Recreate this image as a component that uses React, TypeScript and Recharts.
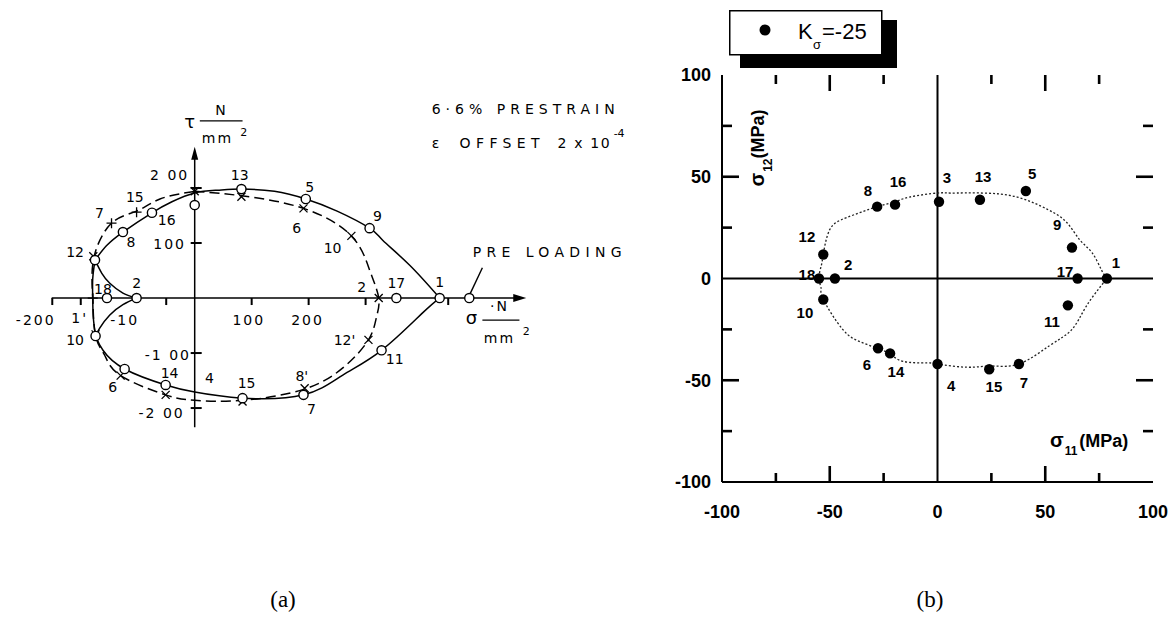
import React from 'react';
import { ScatterChart, Scatter, XAxis, YAxis, ReferenceLine, Legend } from 'recharts';

// ================= Panel (a) data (tau vs sigma, N/mm^2) =================
const aCircles = [
  { x: 430, y: 0 }, { x: 482, y: 0 }, { x: 354, y: 0 }, { x: 307, y: 127 }, { x: 195, y: 180 },
  { x: 82, y: 198 }, { x: 0, y: 169 }, { x: -75, y: 155 }, { x: -126, y: 120 }, { x: -175, y: 69 },
  { x: -102, y: 0 }, { x: -154, y: 0 }, { x: -174, y: -69 }, { x: -123, y: -129 }, { x: -51, y: -158 },
  { x: 84, y: -182 }, { x: 191, y: -176 }, { x: 328, y: -95 },
];
const aCrosses = [
  { x: 0, y: 194 }, { x: 82, y: 184 }, { x: 191, y: 163 }, { x: 275, y: 113 }, { x: 323, y: 0 },
  { x: 305, y: -76 }, { x: 193, y: -164 }, { x: 84, y: -188 }, { x: -51, y: -176 },
  { x: -130, y: -141 }, { x: -174, y: -66 }, { x: -178, y: 76 },
];
const aPlus = [{ x: -146, y: 136 }, { x: -102, y: 156 }, { x: -179, y: 0 }];

const aSolidUpper = [
  { x: 430, y: 0 }, { x: 377, y: 60 }, { x: 330, y: 105 }, { x: 307, y: 127 }, { x: 250, y: 158 },
  { x: 195, y: 180 }, { x: 140, y: 194 }, { x: 82, y: 198 }, { x: 40, y: 196 }, { x: 0, y: 191 },
  { x: -40, y: 175 }, { x: -75, y: 155 }, { x: -126, y: 120 }, { x: -155, y: 95 }, { x: -175, y: 69 },
];
const aSolidLeft = [
  { x: -175, y: 69 }, { x: -179, y: 35 }, { x: -179, y: 0 }, { x: -178, y: -35 }, { x: -174, y: -69 },
];
const aSolidInnerTop = [
  { x: -175, y: 69 }, { x: -163, y: 45 }, { x: -149, y: 27 }, { x: -126, y: 9 }, { x: -102, y: 0 },
];
const aSolidInnerBottom = [
  { x: -102, y: 0 }, { x: -126, y: -12 }, { x: -149, y: -31 }, { x: -167, y: -55 }, { x: -174, y: -69 },
];
const aSolidLower = [
  { x: -174, y: -69 }, { x: -161, y: -95 }, { x: -123, y: -129 }, { x: -51, y: -158 }, { x: 0, y: -171 },
  { x: 84, y: -182 }, { x: 191, y: -176 }, { x: 260, y: -140 }, { x: 328, y: -95 }, { x: 400, y: -27 },
  { x: 430, y: 0 },
];
const aDashed = [
  { x: 0, y: 194 }, { x: 82, y: 186 }, { x: 191, y: 163 }, { x: 275, y: 113 }, { x: 307, y: 51 },
  { x: 323, y: 0 }, { x: 319, y: -35 }, { x: 305, y: -76 }, { x: 260, y: -127 }, { x: 191, y: -166 },
  { x: 84, y: -186 }, { x: 0, y: -186 }, { x: -51, y: -176 }, { x: -130, y: -141 }, { x: -158, y: -104 },
  { x: -174, y: -69 }, { x: -179, y: 0 }, { x: -177, y: 73 }, { x: -146, y: 136 }, { x: -102, y: 158 },
  { x: -61, y: 180 }, { x: 0, y: 194 },
];

const aXTicks = [-250, -200, -50, 100, 200, 300, 445];
const aYTicks = [200, 100, -100, -200];

const aPointLabels = [
  { t: '13', x: 79, y: 224 }, { t: '5', x: 202, y: 202 }, { t: '9', x: 321, y: 149 },
  { t: '6', x: 179, y: 127 }, { t: '10', x: 242, y: 91 }, { t: '2', x: 293, y: 20 },
  { t: '17', x: 354, y: 27 }, { t: '1', x: 430, y: 29 }, { t: "12'", x: 263, y: -76 },
  { t: '11', x: 351, y: -111 }, { t: "8'", x: 188, y: -142 }, { t: '7', x: 205, y: -202 },
  { t: '15', x: 91, y: -155 }, { t: '4', x: 26, y: -145 }, { t: '14', x: -44, y: -136 },
  { t: '6', x: -144, y: -162 }, { t: '10', x: -210, y: -76 }, { t: '18', x: -161, y: 16 },
  { t: '2', x: -102, y: 27 }, { t: '12', x: -210, y: 84 }, { t: '8', x: -112, y: 102 },
  { t: '7', x: -167, y: 155 }, { t: '15', x: -105, y: 184 }, { t: '16', x: -49, y: 142 },
];
const aTickLabels = [
  { t: '2 00', x: -44, y: 224 }, { t: '100', x: -44, y: 98 }, { t: '-1 00', x: -47, y: -104 },
  { t: '-2 00', x: -58, y: -209 }, { t: '-200', x: -279, y: -40 }, { t: "1'", x: -202, y: -36 },
  { t: '-10', x: -123, y: -40 }, { t: '100', x: 95, y: -40 }, { t: '200', x: 198, y: -40 },
];
const aNotes = [
  { t: '6·6% PRESTRAIN', x: 416, y: 344 }, { t: 'ε', x: 416, y: 282 }, { t: 'OFFSET', x: 465, y: 282 },
  { t: '2 x 10', x: 637, y: 282 }, { t: 'PRE LOADING', x: 488, y: 84 },
];
const aSuper = [{ t: '-4', x: 745, y: 300 }, { t: '2', x: 86, y: 302 }, { t: '2', x: 582, y: -60 }];
const aAxisSymbols = [{ t: 'τ', x: -9, y: 320 }, { t: 'σ', x: 486, y: -36 }];
const aUnits = [
  { t: 'N', x: 47, y: 342 }, { t: 'mm', x: 40, y: 291 }, { t: '·N', x: 535, y: -14 }, { t: 'mm', x: 535, y: -73 },
];

// ================= Panel (b) data (sigma12 vs sigma11, MPa) =================
const bPoints = [
  { x: 78.6, y: 0 }, { x: -47.6, y: 0 }, { x: 0.7, y: 37.7 }, { x: 0, y: -42 }, { x: 41, y: 43 },
  { x: -27.6, y: -34.3 }, { x: 37.8, y: -42 }, { x: -28, y: 35.3 }, { x: 62.4, y: 15.2 },
  { x: -53, y: -10.3 }, { x: 60.5, y: -13.2 }, { x: -53, y: 11.8 }, { x: 19.7, y: 38.7 },
  { x: -22, y: -36.8 }, { x: 24, y: -44.6 }, { x: -19.7, y: 36.3 }, { x: 65, y: 0 }, { x: -55, y: 0 },
];
const bLabels = [
  { t: '1', x: 82.8, y: 7.8 }, { t: '2', x: -41.5, y: 6.9 }, { t: '3', x: 4.4, y: 49.5 },
  { t: '4', x: 6.3, y: -52.9 }, { t: '5', x: 43.9, y: 51.5 }, { t: '6', x: -32.7, y: -42.6 },
  { t: '7', x: 40.1, y: -51 }, { t: '8', x: -32.3, y: 43.1 }, { t: '9', x: 55.5, y: 26.5 },
  { t: '10', x: -61.5, y: -16.7 }, { t: '11', x: 53.1, y: -21.1 }, { t: '12', x: -60.6, y: 20.6 },
  { t: '13', x: 21.1, y: 50 }, { t: '14', x: -19.3, y: -45.6 }, { t: '15', x: 26.2, y: -53.4 },
  { t: '16', x: -18.3, y: 47.5 }, { t: '17', x: 59.2, y: 3.4 }, { t: '18', x: -60.6, y: 2 },
];
const bCurve = [
  { x: 78.6, y: 0 }, { x: 76, y: 4.4 }, { x: 71.7, y: 12.7 }, { x: 66, y: 19 }, { x: 60, y: 27.5 },
  { x: 51, y: 34 }, { x: 37, y: 40 }, { x: 21, y: 42 }, { x: 6, y: 42 }, { x: 0, y: 42 },
  { x: -13, y: 40 }, { x: -20, y: 37.5 }, { x: -28, y: 35.3 }, { x: -42, y: 30 }, { x: -50, y: 24 },
  { x: -53, y: 11.8 }, { x: -54, y: 6 }, { x: -55, y: 0 }, { x: -54, y: -5 }, { x: -53, y: -10.3 },
  { x: -44, y: -25 }, { x: -36, y: -31 }, { x: -28, y: -34.3 }, { x: -22, y: -37 }, { x: -16, y: -40.7 },
  { x: -5, y: -41.5 }, { x: 0, y: -42 }, { x: 13.7, y: -43.6 }, { x: 25, y: -43 }, { x: 37.8, y: -42 },
  { x: 52, y: -33 }, { x: 62.4, y: -25 }, { x: 69, y: -13.7 }, { x: 78.6, y: 0 },
];
const bTicks = [-100, -50, 0, 50, 100];
const bMinorTicks = [-75, -25, 25, 75];
const bMajorInner = [-50, 50];
const bXTitle = [{ x: 52.2, y: -82.8 }];
const bYTitle = [{ x: -80.5, y: 45.2 }];
const legendName = 'Kσ=-25';

// ================= styles / shapes =================
const aFont = { fontFamily: 'DejaVu Sans, sans-serif', fill: '#000' } as const;
const bFont = { fontFamily: 'Liberation Sans, Arial, sans-serif', fontWeight: 700, fill: '#000' } as const;
const noteWidths: Record<string, number> = { '6·6% PRESTRAIN': 183, OFFSET: 80, '2 x 10': 52, 'PRE LOADING': 149 };
const none = () => <g />;

const centeredText = (style: any) => (p: any) => (
  <text x={p.cx} y={p.cy} dy="0.35em" textAnchor="middle" {...style}>{p.payload.t}</text>
);
const noteText = (p: any) => {
  const w = noteWidths[p.payload.t];
  return (
    <text x={p.cx} y={p.cy} dy="0.35em" textAnchor="start" fontSize={14} {...aFont}
      {...(w ? { textLength: w, lengthAdjust: 'spacing' } : {})}>{p.payload.t}</text>
  );
};
const openCircle = (p: any) => <circle cx={p.cx} cy={p.cy} r={4.6} fill="#fff" stroke="#000" strokeWidth={1.4} />;
const crossMark = (p: any) => (
  <path d={`M${p.cx - 4},${p.cy - 4}L${p.cx + 4},${p.cy + 4}M${p.cx + 4},${p.cy - 4}L${p.cx - 4},${p.cy + 4}`} stroke="#000" strokeWidth={1.3} />
);
const plusMark = (p: any) => (
  <path d={`M${p.cx - 5},${p.cy}L${p.cx + 5},${p.cy}M${p.cx},${p.cy - 5}L${p.cx},${p.cy + 5}`} stroke="#000" strokeWidth={1.3} />
);
const arrowRight = (p: any) => <polygon points={`${p.cx},${p.cy} ${p.cx - 13},${p.cy - 4} ${p.cx - 13},${p.cy + 4}`} fill="#000" />;
const arrowUp = (p: any) => <polygon points={`${p.cx},${p.cy} ${p.cx - 3.5},${p.cy + 13} ${p.cx + 3.5},${p.cy + 13}`} fill="#000" />;
const filledDot = (p: any) => <circle cx={p.cx} cy={p.cy} r={5.2} fill="#000" />;

// tick marks as small polygons, built the same way as the (visible) arrowheads
const aXTickShape = (p: any) => (
  <polygon points={`${p.cx - 1},${p.cy} ${p.cx + 1},${p.cy} ${p.cx + 1},${p.cy + 7} ${p.cx - 1},${p.cy + 7}`} fill="#000" />
);
const aYTickShape = (p: any) => (
  <polygon points={`${p.cx - 4},${p.cy - 1} ${p.cx + 7},${p.cy - 1} ${p.cx + 7},${p.cy + 1} ${p.cx - 4},${p.cy + 1}`} fill="#000" />
);
const tickPoly = (dx: number, dy: number) => (p: any) => {
  const w = 1.3;
  const pts = dx !== 0
    ? `${p.cx},${p.cy - w} ${p.cx + dx},${p.cy - w} ${p.cx + dx},${p.cy + w} ${p.cx},${p.cy + w}`
    : `${p.cx - w},${p.cy} ${p.cx + w},${p.cy} ${p.cx + w},${p.cy + dy} ${p.cx - w},${p.cy + dy}`;
  return <polygon points={pts} fill="#000" />;
};

const solidLine = { stroke: '#000', strokeWidth: 1.5, fill: 'none' };
const dashedLine = { stroke: '#000', strokeWidth: 1.5, strokeDasharray: '10 5', fill: 'none' };

const BottomLabel = (p: any) => (
  <text x={p.x} y={p.y + 36} textAnchor="middle" fontSize={18} {...bFont}>{p.payload.value}</text>
);
const LeftLabel = (p: any) => (
  <text x={p.x - 11} y={p.y} dy="0.36em" textAnchor="end" fontSize={18} {...bFont}>{p.payload.value}</text>
);
const xTitleShape = (p: any) => (
  <text x={p.cx} y={p.cy} {...bFont} fontSize={18}>
    <tspan fontSize={20}>σ</tspan>
    <tspan fontSize={12} dy={8} dx={1}>11</tspan>
    <tspan dy={-8} dx={2}>(MPa)</tspan>
  </text>
);
const yTitleShape = (p: any) => (
  <text x={p.cx} y={p.cy} transform={`rotate(-90 ${p.cx} ${p.cy})`} {...bFont} fontSize={18}>
    <tspan fontSize={20}>σ</tspan>
    <tspan fontSize={12} dy={8} dx={1}>12</tspan>
    <tspan dy={-8}>(MPa)</tspan>
  </text>
);
const LegendBox = () => (
  <svg width={172} height={62} style={{ display: 'block' }}>
    <rect x={11} y={10} width={157} height={48} fill="#000" />
    <rect x={0.75} y={0.75} width={152} height={44} fill="#fff" stroke="#000" strokeWidth={1.5} />
    <circle cx={36} cy={20} r={5.5} fill="#000" />
    <text fontFamily="Liberation Sans, Arial, sans-serif" fill="#000">
      <tspan x={69} y={29} fontSize={22}>{legendName.slice(0, 1)}</tspan>
      <tspan x={84} y={39} fontSize={13}>{legendName.slice(1, 2)}</tspan>
      <tspan x={93} y={29} fontSize={22}>{legendName.slice(2)}</tspan>
    </text>
  </svg>
);

const axisStroke = { stroke: '#000', strokeWidth: 2 };

export default function App() {
  return (
    <div style={{ position: 'absolute', left: 0, top: 0, width: 1176, height: 628, background: '#fff', overflow: 'hidden' }}>
      {/* ---------- Panel (a) ---------- */}
      <div style={{ position: 'absolute', left: 0, top: 0 }}>
        <ScatterChart width={660} height={460} margin={{ top: 1, right: 1, bottom: 3, left: 1 }}>
          <XAxis type="number" dataKey="x" domain={[-340, 815]} allowDataOverflow hide />
          <YAxis type="number" dataKey="y" domain={[-289, 540]} allowDataOverflow hide />
          <ReferenceLine segment={[{ x: -251, y: 0 }, { x: 575, y: 0 }]} stroke="#000" strokeWidth={1.5} ifOverflow="visible" />
          <ReferenceLine segment={[{ x: 0, y: -235 }, { x: 0, y: 268 }]} stroke="#000" strokeWidth={1.5} ifOverflow="visible" />
          <ReferenceLine segment={[{ x: 9, y: 322 }, { x: 84, y: 322 }]} stroke="#000" strokeWidth={1.3} ifOverflow="visible" />
          <ReferenceLine segment={[{ x: 505, y: -40 }, { x: 570, y: -40 }]} stroke="#000" strokeWidth={1.3} ifOverflow="visible" />
          <ReferenceLine segment={[{ x: 484, y: 9 }, { x: 505, y: 55 }]} stroke="#000" strokeWidth={1.4} ifOverflow="visible" />
          {aXTicks.map((x) => (
            <Scatter key={`axt${x}`} data={[{ x, y: 0 }]} shape={aXTickShape} isAnimationActive={false} />
          ))}
          {aYTicks.map((y) => (
            <Scatter key={`ayt${y}`} data={[{ x: 0, y }]} shape={aYTickShape} isAnimationActive={false} />
          ))}
          <Scatter data={[{ x: 582, y: 0 }]} shape={arrowRight} isAnimationActive={false} />
          <Scatter data={[{ x: 0, y: 275 }]} shape={arrowUp} isAnimationActive={false} />
          <Scatter data={aSolidUpper} line={solidLine} lineJointType="natural" shape={none} isAnimationActive={false} />
          <Scatter data={aSolidLeft} line={solidLine} lineJointType="natural" shape={none} isAnimationActive={false} />
          <Scatter data={aSolidInnerTop} line={solidLine} lineJointType="natural" shape={none} isAnimationActive={false} />
          <Scatter data={aSolidInnerBottom} line={solidLine} lineJointType="natural" shape={none} isAnimationActive={false} />
          <Scatter data={aSolidLower} line={solidLine} lineJointType="natural" shape={none} isAnimationActive={false} />
          <Scatter data={aDashed} line={dashedLine} lineJointType="natural" shape={none} isAnimationActive={false} />
          <Scatter data={aCrosses} shape={crossMark} isAnimationActive={false} />
          <Scatter data={aPlus} shape={plusMark} isAnimationActive={false} />
          <Scatter data={aCircles} shape={openCircle} isAnimationActive={false} />
          <Scatter data={aPointLabels} shape={centeredText({ ...aFont, fontSize: 14 })} isAnimationActive={false} />
          <Scatter data={aTickLabels} shape={centeredText({ ...aFont, fontSize: 14, letterSpacing: 2 })} isAnimationActive={false} />
          <Scatter data={aNotes} shape={noteText} isAnimationActive={false} />
          <Scatter data={aSuper} shape={centeredText({ ...aFont, fontSize: 11 })} isAnimationActive={false} />
          <Scatter data={aAxisSymbols} shape={centeredText({ ...aFont, fontSize: 18 })} isAnimationActive={false} />
          <Scatter data={aUnits} shape={centeredText({ ...aFont, fontSize: 14, letterSpacing: 2 })} isAnimationActive={false} />
        </ScatterChart>
      </div>

      {/* ---------- Panel (b) ---------- */}
      <div style={{ position: 'absolute', left: 660, top: 0 }}>
        <ScatterChart width={516} height={560} margin={{ top: 75, right: 23, bottom: 38, left: 2 }}>
          <XAxis type="number" dataKey="x" domain={[-100, 100]} ticks={bTicks} interval={0} height={40}
            tickSize={0} tickMargin={0} tick={<BottomLabel />} axisLine={axisStroke} tickLine={false} />
          <XAxis xAxisId="top" orientation="top" type="number" dataKey="x" domain={[-100, 100]} height={0}
            tick={false} axisLine={axisStroke} tickLine={false} />
          <YAxis type="number" dataKey="y" domain={[-100, 100]} ticks={bTicks} interval={0} width={60}
            tickSize={0} tickMargin={0} tick={<LeftLabel />} axisLine={axisStroke} tickLine={false} />
          <YAxis yAxisId="right" orientation="right" type="number" dataKey="y" domain={[-100, 100]} width={0}
            tick={false} axisLine={axisStroke} tickLine={false} />
          <ReferenceLine x={0} stroke="#000" strokeWidth={2} />
          <ReferenceLine y={0} stroke="#000" strokeWidth={2} />
          <Legend layout="vertical" align="center" verticalAlign="middle" content={<LegendBox />}
            wrapperStyle={{ left: 69, top: 10, width: 172, height: 62 }} />
          {/* inner ticks on the four sides of the frame, one series per tick */}
          {bMajorInner.map((v) => <Scatter key={`mb${v}`} data={[{ x: v, y: -100 }]} shape={tickPoly(0, -16)} legendType="none" isAnimationActive={false} />)}
          {bMinorTicks.map((v) => <Scatter key={`nb${v}`} data={[{ x: v, y: -100 }]} shape={tickPoly(0, -9)} legendType="none" isAnimationActive={false} />)}
          {bMajorInner.map((v) => <Scatter key={`mt${v}`} data={[{ x: v, y: 100 }]} shape={tickPoly(0, 16)} legendType="none" isAnimationActive={false} />)}
          {bMinorTicks.map((v) => <Scatter key={`nt${v}`} data={[{ x: v, y: 100 }]} shape={tickPoly(0, 9)} legendType="none" isAnimationActive={false} />)}
          {bMajorInner.map((v) => <Scatter key={`ml${v}`} data={[{ x: -100, y: v }]} shape={tickPoly(17, 0)} legendType="none" isAnimationActive={false} />)}
          {bMinorTicks.map((v) => <Scatter key={`nl${v}`} data={[{ x: -100, y: v }]} shape={tickPoly(10, 0)} legendType="none" isAnimationActive={false} />)}
          {bMajorInner.map((v) => <Scatter key={`mr${v}`} data={[{ x: 100, y: v }]} shape={tickPoly(-17, 0)} legendType="none" isAnimationActive={false} />)}
          {bMinorTicks.map((v) => <Scatter key={`nr${v}`} data={[{ x: 100, y: v }]} shape={tickPoly(-10, 0)} legendType="none" isAnimationActive={false} />)}
          <Scatter name={legendName} data={bCurve} line={{ stroke: '#222', strokeWidth: 1.3, strokeDasharray: '2 2', fill: 'none' }}
            lineJointType="natural" shape={none} legendType="none" isAnimationActive={false} />
          <Scatter name={legendName} data={bPoints} shape={filledDot} isAnimationActive={false} />
          <Scatter data={bLabels} shape={centeredText({ ...bFont, fontSize: 15 })} legendType="none" isAnimationActive={false} />
          <Scatter data={bXTitle} shape={xTitleShape} legendType="none" isAnimationActive={false} />
          <Scatter data={bYTitle} shape={yTitleShape} legendType="none" isAnimationActive={false} />
        </ScatterChart>
      </div>

      {/* captions */}
      <div style={{ position: 'absolute', left: 243, top: 586, width: 80, textAlign: 'center', fontFamily: 'Liberation Serif, serif', fontSize: 23, lineHeight: '28px' }}>(a)</div>
      <div style={{ position: 'absolute', left: 890, top: 586, width: 80, textAlign: 'center', fontFamily: 'Liberation Serif, serif', fontSize: 23, lineHeight: '28px' }}>(b)</div>
    </div>
  );
}
